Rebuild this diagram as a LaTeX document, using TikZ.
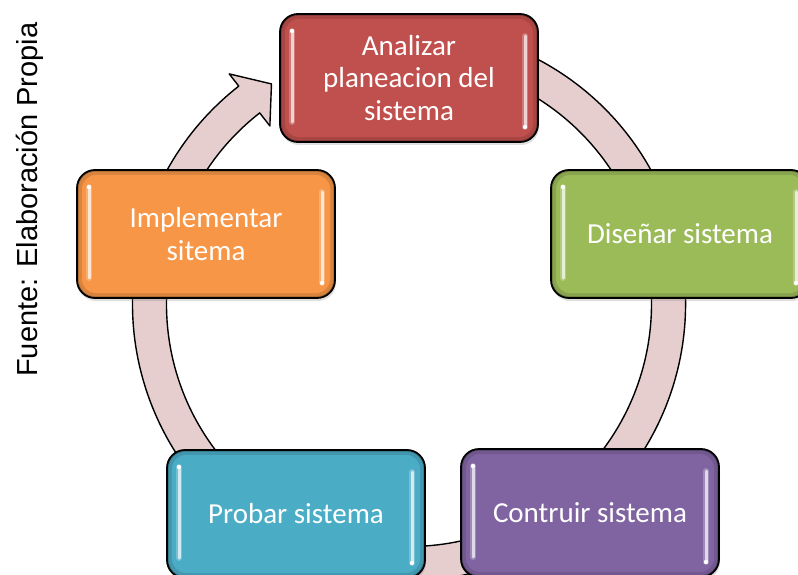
\documentclass[tikz,border=0pt]{standalone}
\usepackage{fontspec}
\setmainfont{Carlito}
\newfontfamily\arialf{Liberation Sans}
\usetikzlibrary{calc,shadows}
\definecolor{ringc}{RGB}{230,206,207}
\definecolor{cred}{RGB}{192,80,77}
\definecolor{cgreen}{RGB}{155,187,89}
\definecolor{corange}{RGB}{247,150,70}
\definecolor{cblue}{RGB}{75,172,198}
\definecolor{cpurple}{RGB}{128,100,162}
\tikzset{
  ringarrow/.style={fill=ringc, draw=black, line width=1.4pt, line join=round},
  gbox/.style={draw=black, line width=1.8pt, rounded corners=18pt,
    minimum width=258pt, minimum height=128pt, inner sep=0pt,
    text=white, font=\fontsize{29pt}{32.5pt}\selectfont, align=center,
    fill=#1!72!black,
    drop shadow={opacity=0.25, shadow xshift=1pt, shadow yshift=-3pt},
    path picture={
      \fill[#1!88!black, rounded corners=16pt]
        ([shift={(2,2)}]path picture bounding box.north west) rectangle
        ([shift={(-2,-2)}]path picture bounding box.south east);
      \fill[#1, rounded corners=14pt]
        ([shift={(5,5)}]path picture bounding box.north west) rectangle
        ([shift={(-5,-5)}]path picture bounding box.south east);
      \draw[#1!60!white, line width=6pt, line cap=round, opacity=0.6]
        ([shift={(12,17)}]path picture bounding box.north west) --
        ([shift={(12,-20)}]path picture bounding box.south west);
      \draw[#1!60!white, line width=6pt, line cap=round, opacity=0.6]
        ([shift={(-13,22)}]path picture bounding box.north east) --
        ([shift={(-13,-15)}]path picture bounding box.south east);
      \draw[#1!25!white, line width=3pt, line cap=round]
        ([shift={(12,17)}]path picture bounding box.north west) --
        ([shift={(12,-20)}]path picture bounding box.south west);
      \draw[#1!25!white, line width=3pt, line cap=round]
        ([shift={(-13,22)}]path picture bounding box.north east) --
        ([shift={(-13,-15)}]path picture bounding box.south east);
      \fill[white] ([shift={(12,17)}]path picture bounding box.north west) circle[radius=2.2];
      \fill[white] ([shift={(-13,-15)}]path picture bounding box.south east) circle[radius=2.2];
    }},
  srcnote/.style={rotate=90, anchor=base west, inner sep=0pt,
    font=\arialf\fontsize{29pt}{34pt}\selectfont}
}
\begin{document}
\begin{tikzpicture}[x=1pt, y=-1pt]
\useasboundingbox (0,0) rectangle (798,575);
\clip (0,0) rectangle (798,575);
\coordinate (c) at (409,304);
\draw[ringarrow] ($(c)+(-110:276.5)$) arc[start angle=-110, end angle=232, radius=276.5]
  -- ($(c)+(232:292)$) -- ($(c)+(238:259.5)$) -- ($(c)+(232:226)$)
  -- ($(c)+(232:242.5)$) arc[start angle=232, end angle=-110, radius=242.5] -- cycle;
\node[gbox=cred] (analizar) at (409,78) {Analizar\\planeacion del\\sistema};
\node[gbox=cgreen] (disenar) at (680,234) {Diseñar sistema};
\node[gbox=cpurple] (construir) at (590,513) {Contruir sistema};
\node[gbox=cblue] (probar) at (296,514) {Probar sistema};
\node[gbox=corange] (implementar) at (206,234) {Implementar\\sitema};
\node[srcnote] (fuente) at (37,377) {Fuente: Elaboración Propia};
\end{tikzpicture}
\end{document}
